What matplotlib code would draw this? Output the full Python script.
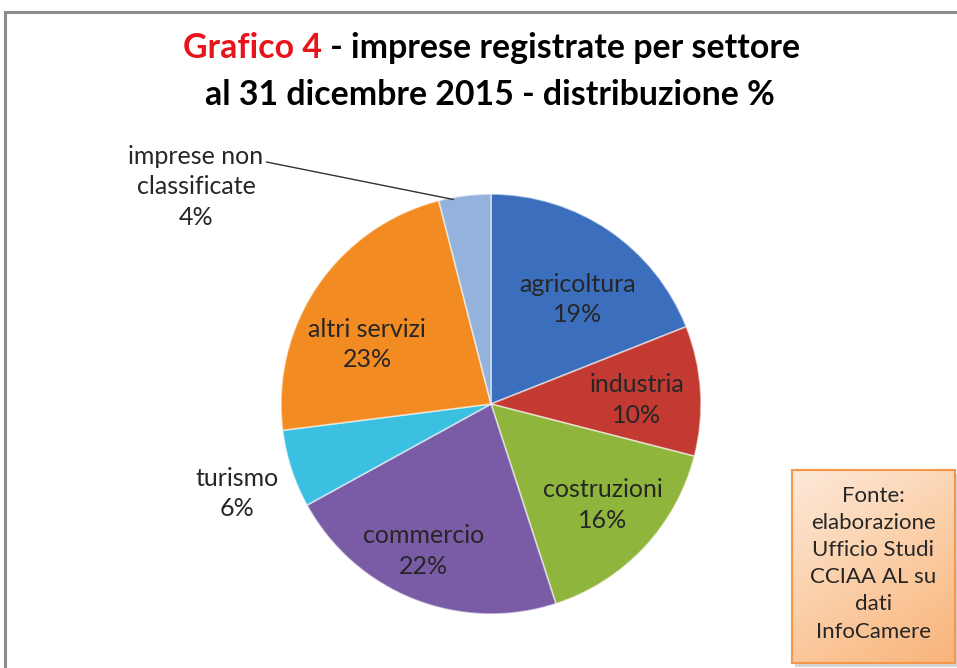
import numpy as np
import matplotlib
matplotlib.use("Agg")
import matplotlib.pyplot as plt
from matplotlib.patches import Rectangle
from matplotlib.colors import LinearSegmentedColormap

# ---- data ----
categories = ["agricoltura", "industria", "costruzioni", "commercio",
              "turismo", "altri servizi", "imprese non\nclassificate"]
values = [19, 10, 16, 22, 6, 23, 4]
pct_labels = ["19%", "10%", "16%", "22%", "6%", "23%", "4%"]

# ---- style / layout ----
colors = ["#3b6fbd", "#c23a32", "#8fb53c", "#7a5ba6", "#3cc0e2", "#f28b22", "#93b2dc"]
# label placement in polar coords (degrees ccw from +x, radius in pie units)
label_ang = [50.4, 1.6, -42.0, -114.6, -160.6, 154.4, None]
label_r = [0.645, 0.695, 0.718, 0.77, 1.28, 0.655, None]
text_color = "#262626"
FONT = "Lato"
LSIZE = 18
LSP = 1.38

W, H = 957, 668
fig = plt.figure(figsize=(W / 100, H / 100), dpi=100)
fig.patch.set_facecolor("white")

# outer frame (cut at right / bottom)
fig.patches.append(Rectangle((5 / W, -0.05), 1.2, 1 - 12 / H + 0.05,
                             transform=fig.transFigure, fill=False,
                             edgecolor="#8c8c8c", lw=2.2, zorder=-2))

# pie axes: centre (491,404) px, radius 210 px
cx, cy, R = 491, 404, 210
ax = fig.add_axes([(cx - R) / W, (H - cy - R) / H, 2 * R / W, 2 * R / H])
wedges, _ = ax.pie(values, colors=colors, startangle=90, counterclock=False,
                   radius=1.0,
                   wedgeprops=dict(edgecolor=(1, 1, 1, 0.55), linewidth=1.2))
ax.set_xlim(-1, 1)
ax.set_ylim(-1, 1)
ax.set_aspect("equal")
ax.axis("off")

for i, w in enumerate(wedges):
    if label_r[i] is None:
        continue
    a = np.deg2rad(label_ang[i])
    r = label_r[i]
    ax.text(r * np.cos(a), r * np.sin(a),
            categories[i] + "\n" + pct_labels[i],
            ha="center", va="center", fontsize=LSIZE, family=FONT,
            color=text_color, linespacing=LSP)

# imprese non classificate: outside label with leader line
w = wedges[-1]
ea = np.deg2rad(w.theta2 - 4)
ax.annotate(categories[-1] + "\n" + pct_labels[-1],
            xy=(0.99 * np.cos(ea), 0.99 * np.sin(ea)),
            xytext=((196 - cx) / R, (cy - 187) / R),
            ha="center", va="center", fontsize=LSIZE, family=FONT,
            color=text_color, linespacing=LSP,
            arrowprops=dict(arrowstyle="-", color="#333333", lw=1.0,
                            shrinkA=0, shrinkB=0,
                            relpos=(1.02, 0.80)))

# ---- title ----
renderer = fig.canvas.get_renderer()
tsize = 24.4
y1 = 1 - 48 / H
y2 = 1 - 95 / H
t_red = fig.text(0, y1, "Grafico 4", color="#e8141b", fontsize=tsize,
                 fontweight="bold", family=FONT, ha="left", va="center")
t_blk = fig.text(0, y1, " - imprese registrate per settore", color="black",
                 fontsize=tsize, fontweight="bold", family=FONT,
                 ha="left", va="center")
w_red = t_red.get_window_extent(renderer).width
w_blk = t_blk.get_window_extent(renderer).width
x0 = 492 - (w_red + w_blk) / 2
t_red.set_x(x0 / W)
t_blk.set_x((x0 + w_red) / W)
fig.text(490 / W, y2, "al 31 dicembre 2015 - distribuzione %", color="black",
         fontsize=tsize, fontweight="bold", family=FONT,
         ha="center", va="center")

# ---- source box ----
bx0, by0, bx1, by1 = 792, 470, 955, 663
# shadow
fig.patches.append(Rectangle(((bx0 + 3) / W, (H - by1 - 4) / H),
                             (bx1 - bx0) / W, (by1 - by0) / H,
                             transform=fig.transFigure, facecolor="#b8b8b8",
                             edgecolor="none", alpha=0.6, zorder=-1))
bax = fig.add_axes([bx0 / W, (H - by1) / H, (bx1 - bx0) / W, (by1 - by0) / H])
cmap = LinearSegmentedColormap.from_list("peach", ["#fde9d9", "#fbcfa8", "#f9b47a"])
gx, gy = np.meshgrid(np.linspace(0, 1, 50), np.linspace(0, 1, 80))
bax.imshow(0.35 * gx + 0.65 * gy, cmap=cmap, aspect="auto",
           extent=(0, 1, 1, 0), vmin=0, vmax=1)
bax.set_xlim(0, 1)
bax.set_ylim(1, 0)
bax.set_xticks([])
bax.set_yticks([])
for s in bax.spines.values():
    s.set_edgecolor("#f79646")
    s.set_linewidth(1.5)
bax.text(0.5, 0.515, "Fonte:\nelaborazione\nUfficio Studi\nCCIAA AL su\ndati\nInfoCamere",
         ha="center", va="center", fontsize=16, family=FONT, color=text_color,
         linespacing=1.45, transform=bax.transAxes)

fig.savefig("out.png", dpi=100)
